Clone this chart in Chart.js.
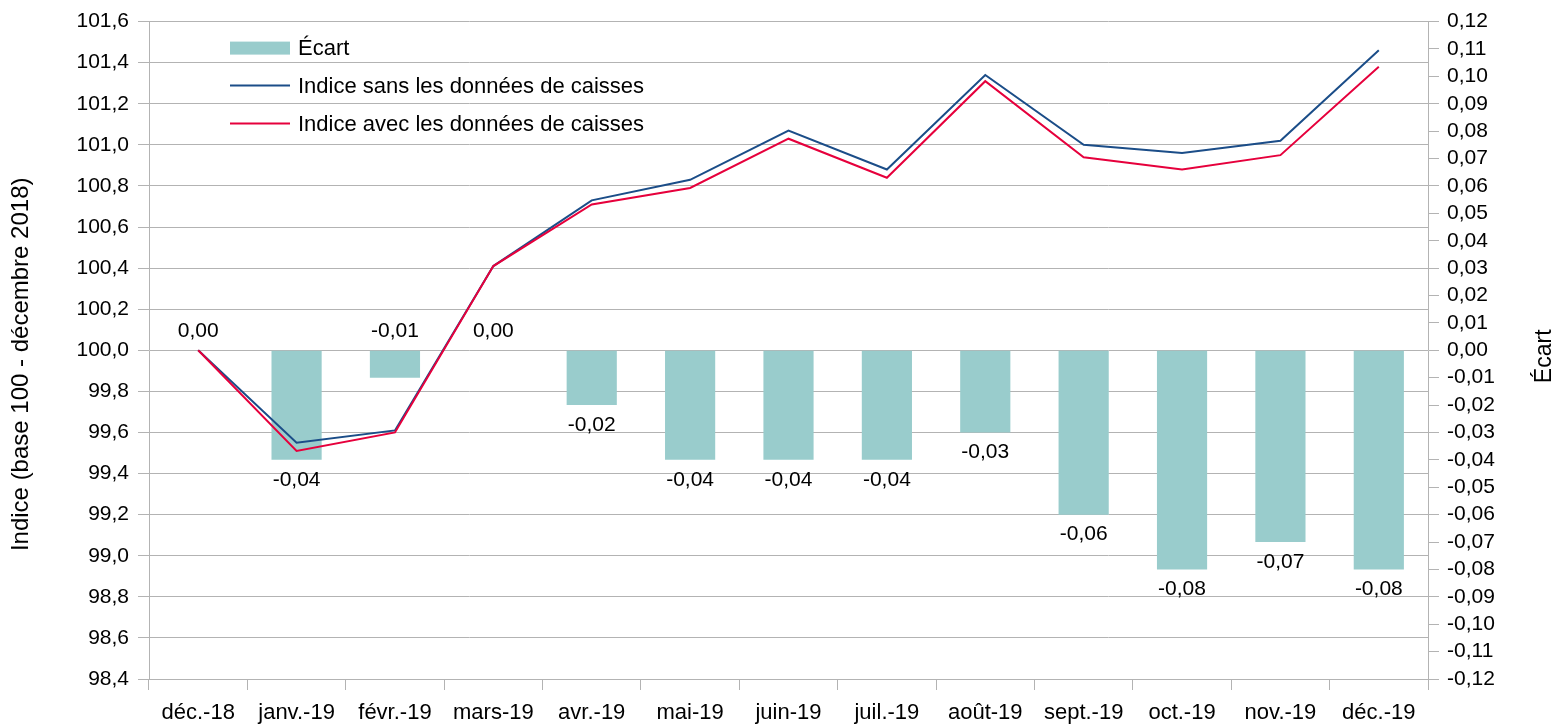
<!DOCTYPE html>
<html>
<head>
<meta charset="utf-8">
<script src="https://cdn.jsdelivr.net/npm/chart.js@4.4.0/dist/chart.umd.min.js"></script>
<style>
html, body { margin: 0; padding: 0; background: #fff; }
#cadre { width: 1558px; height: 724px; }
</style>
</head>
<body>
<div id="cadre"><canvas id="graf" width="1558" height="724"></canvas></div>
<script>
"use strict";

////////////////////////////////////////////////////// données
const mois = ["déc.-18", "janv.-19", "févr.-19", "mars-19", "avr.-19", "mai-19", "juin-19",
    "juil.-19", "août-19", "sept.-19", "oct.-19", "nov.-19", "déc.-19"];
const indiceSans = [100.00, 99.55, 99.61, 100.41, 100.73, 100.83, 101.07, 100.88, 101.34, 101.00, 100.96, 101.02, 101.46];
const indiceAvec = [100.00, 99.51, 99.60, 100.41, 100.71, 100.79, 101.03, 100.84, 101.31, 100.94, 100.88, 100.95, 101.38];
const ecart = [0.00, -0.04, -0.01, 0.00, -0.02, -0.04, -0.04, -0.04, -0.03, -0.06, -0.08, -0.07, -0.08];

const gris = "#b3b3b3";
const police = '"Liberation Sans", Arial, sans-serif';
Chart.defaults.font.family = police;
Chart.defaults.color = "#000";

function virgule(v, dec) {
    if (Math.abs(v) < 1e-9) v = 0;
    return v.toFixed(dec).replace(".", ",");
}

////////////////////////////////////////////////////// étiquettes des barres
const etiquettesEcart = {
    id: "etiquettesEcart",
    afterDatasetsDraw(chart) {
        const meta = chart.getDatasetMeta(0);
        const base = chart.scales.y1.getPixelForValue(0);
        const ctx = chart.ctx;
        ctx.save();
        ctx.font = "21px " + police;
        ctx.fillStyle = "#000";
        ctx.textAlign = "center";
        ctx.textBaseline = "middle";
        meta.data.forEach((barre, i) => {
            // barres trop courtes : étiquette au-dessus de la ligne zéro
            const y = ecart[i] < -0.015 ? barre.y + 20 : base - 19;
            ctx.fillText(virgule(ecart[i], 2), barre.x, y);
        });
        ctx.restore();
    }
};

////////////////////////////////////////////////////// légende + titres des axes
const legendeMaison = {
    id: "legendeMaison",
    afterDraw(chart) {
        const ctx = chart.ctx;
        const zone = chart.chartArea;
        const x0 = zone.left + 81;
        ctx.save();
        ctx.font = "22px " + police;
        ctx.textBaseline = "middle";
        ctx.textAlign = "left";
        // Écart
        ctx.fillStyle = "#99cccc";
        ctx.fillRect(x0, zone.top + 20, 60, 13);
        ctx.fillStyle = "#000";
        ctx.fillText("Écart", x0 + 68, zone.top + 27);
        // lignes
        const lignes = [
            ["Indice sans les données de caisses", chart.data.datasets[1].borderColor, zone.top + 64],
            ["Indice avec les données de caisses", chart.data.datasets[2].borderColor, zone.top + 102]
        ];
        lignes.forEach((l) => {
            ctx.strokeStyle = l[1];
            ctx.lineWidth = 2;
            ctx.beginPath();
            ctx.moveTo(x0, l[2]);
            ctx.lineTo(x0 + 60, l[2]);
            ctx.stroke();
            ctx.fillStyle = "#000";
            ctx.fillText(l[0], x0 + 68, l[2] + 1);
        });
        ctx.textAlign = "center";
        // titre axe gauche
        ctx.save();
        ctx.font = "24px " + police;
        ctx.translate(21, (zone.top + zone.bottom) / 2 + 14);
        ctx.rotate(-Math.PI / 2);
        ctx.fillText("Indice (base 100 - décembre 2018)", 0, 0);
        ctx.restore();
        // titre axe droit
        ctx.font = "23px " + police;
        ctx.translate(1545, (zone.top + zone.bottom) / 2 + 6);
        ctx.rotate(-Math.PI / 2);
        ctx.fillText("Écart", 0, 0);
        ctx.restore();
    }
};

////////////////////////////////////////////////////// graphique
const ctx = document.getElementById("graf").getContext("2d");
new Chart(ctx, {
    data: {
        labels: mois,
        datasets: [
            {
                type: "bar",
                label: "Écart",
                data: ecart,
                yAxisID: "y1",
                backgroundColor: "#99cccc",
                categoryPercentage: 1,
                barPercentage: 0.51,
                order: 3
            },
            {
                type: "line",
                label: "Indice sans les données de caisses",
                data: indiceSans,
                yAxisID: "y",
                borderColor: "#1b4d88",
                borderWidth: 2,
                pointRadius: 0,
                tension: 0,
                order: 2
            },
            {
                type: "line",
                label: "Indice avec les données de caisses",
                data: indiceAvec,
                yAxisID: "y",
                borderColor: "#e6003c",
                borderWidth: 2,
                pointRadius: 0,
                tension: 0,
                order: 1
            }
        ]
    },
    options: {
        responsive: false,
        animation: false,
        devicePixelRatio: 1,
        layout: { padding: { top: 19, left: 0, right: 0, bottom: 0 } },
        plugins: {
            legend: { display: false },
            tooltip: { enabled: false }
        },
        scales: {
            x: {
                offset: true,
                grid: { offset: true, drawOnChartArea: false, color: gris, tickLength: 11 },
                border: { color: gris },
                ticks: { font: { size: 22 }, color: "#000", padding: 10, maxRotation: 0, autoSkip: false },
                afterFit(s) { s.height = 45; }
            },
            y: {
                position: "left",
                min: 98.4,
                max: 101.6,
                grid: { color: gris, tickLength: 11 },
                border: { color: gris },
                ticks: {
                    stepSize: 0.2,
                    font: { size: 21 },
                    color: "#000",
                    padding: 9,
                    callback: (v) => virgule(v, 1)
                },
                afterFit(s) { s.width = 149; }
            },
            y1: {
                position: "right",
                min: -0.12,
                max: 0.12,
                grid: { drawOnChartArea: false, color: gris, tickLength: 11 },
                border: { color: gris },
                ticks: {
                    stepSize: 0.01,
                    font: { size: 21 },
                    color: "#000",
                    padding: 8,
                    autoSkip: false,
                    callback: (v) => virgule(v, 2)
                },
                afterFit(s) { s.width = 130; }
            }
        }
    },
    plugins: [etiquettesEcart, legendeMaison]
});
</script>
</body>
</html>
